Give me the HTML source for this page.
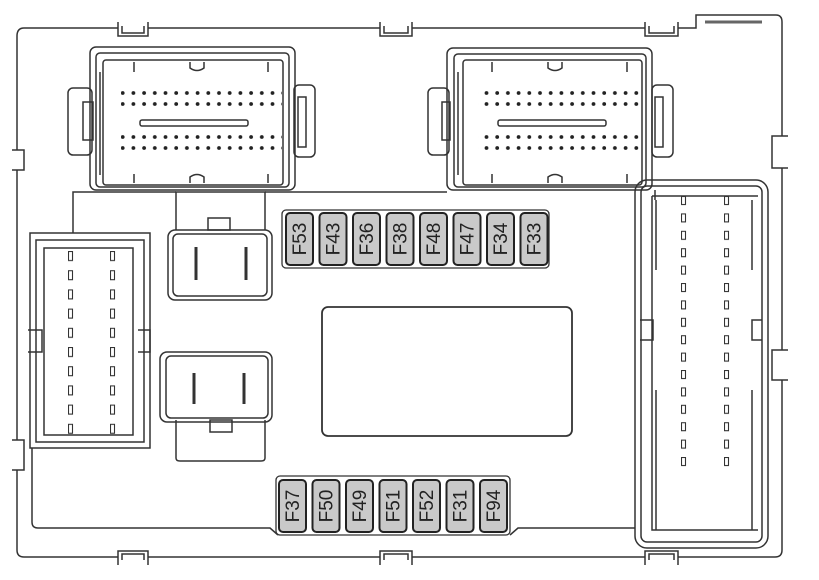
<!DOCTYPE html>
<html><head><meta charset="utf-8"><style>
html,body{margin:0;padding:0;background:#fff;}
svg{display:block;}
text{font-family:"Liberation Sans",sans-serif;font-size:19px;fill:#222;}
</style></head><body>
<svg width="819" height="580" viewBox="0 0 819 580" xmlns="http://www.w3.org/2000/svg">
<defs>
<pattern id="dots" x="0" y="0" width="10.7" height="11" patternUnits="userSpaceOnUse">
<circle cx="5" cy="5" r="1.9" fill="#222"/></pattern>
<pattern id="rpins" x="681" y="196" width="43" height="17.4" patternUnits="userSpaceOnUse">
<rect x="0.5" y="0.5" width="4" height="8" fill="none" stroke="#333" stroke-width="1.1"/></pattern>
<pattern id="lpins" x="68" y="251" width="42" height="19.2" patternUnits="userSpaceOnUse">
<rect x="0.5" y="0.5" width="4" height="9" fill="none" stroke="#333" stroke-width="1.1"/></pattern>
</defs>
<g fill="none" stroke="#333" stroke-width="1.5">
<path d="M24,28 H118 M148,28 H380 M412,28 H645 M678,28 H696 V15 H776 Q782,15 782,22 V136 M782,168 V350 M782,380 V550 Q782,557 775,557 H678 M645,557 H412 M380,557 H148 M118,557 H24 Q17,557 17,550 V470 M17,440 V170 M17,150 V36 Q17,28 24,28"/>
<path d="M705,22 H762" stroke-width="3" stroke="#666"/>
<path d="M118,22 V36 H148 V22 M122,26 V33 H144 V26"/>
<path d="M380,22 V36 H412 V22 M384,26 V33 H408 V26"/>
<path d="M645,22 V36 H678 V22 M649,26 V33 H674 V26"/>
<path d="M118,565 V551 H148 V565 M122,560 V554 H144 V560"/>
<path d="M380,565 V551 H412 V565 M384,560 V554 H408 V560"/>
<path d="M645,565 V551 H678 V565 M649,560 V554 H674 V560"/>
<path d="M12,150 H24 V170 H12 M12,440 H24 V470 H12"/>
<path d="M788,136 H772 V168 H788 M788,350 H772 V380 H788"/>
<path d="M73,233 V192 H176 M265,192 H447 M655,190 V200"/>
<path d="M32,448 V522 Q32,528 38,528 H270 L278,535 M510,535 L518,528 H635"/>
<rect x="90" y="47" width="205" height="143" rx="6"/>
<rect x="96" y="53" width="193" height="134" rx="4"/>
<rect x="103" y="60" width="180" height="125" rx="3"/>
<rect x="68" y="88" width="24" height="67" rx="5"/>
<rect x="83" y="102" width="10" height="38"/>
<rect x="294" y="85" width="21" height="72" rx="5"/>
<rect x="298" y="97" width="8" height="50"/>
<path d="M100,72 V175"/>
<path d="M134,62 V72 M268,62 V72 M134,183 V174 M268,183 V174"/>
<path d="M190,62 V68 Q197,73 204,68 V62 M190,183 V177 Q197,172 204,177 V183"/>
<rect x="140" y="120" width="108" height="6" rx="2"/>
<rect x="447" y="48" width="205" height="142" rx="6"/>
<rect x="454" y="54" width="192" height="133" rx="4"/>
<rect x="463" y="60" width="179" height="125" rx="3"/>
<rect x="428" y="88" width="21" height="67" rx="5"/>
<rect x="442" y="102" width="8" height="38"/>
<rect x="652" y="85" width="21" height="72" rx="5"/>
<rect x="655" y="97" width="8" height="50"/>
<path d="M458,72 V175"/>
<path d="M492,62 V72 M627,62 V72 M492,183 V174 M627,183 V174"/>
<path d="M548,62 V68 Q555,73 562,68 V62 M548,183 V177 Q555,172 562,177 V183"/>
<rect x="498" y="120" width="108" height="6" rx="2"/>
<path d="M176,230 V192 H265 V230"/>
<rect x="208" y="218" width="22" height="12"/>
<rect x="168" y="230" width="104" height="70" rx="7"/>
<rect x="173" y="234" width="94" height="62" rx="5"/>
<path d="M196,247 V280 M246,247 V280" stroke-width="3"/>
<path d="M176,420 V458 Q176,461 180,461 H261 Q265,461 265,458 V420"/>
<rect x="210" y="420" width="22" height="12"/>
<rect x="160" y="352" width="112" height="70" rx="7"/>
<rect x="166" y="356" width="102" height="62" rx="5"/>
<path d="M194,373 V404 M244,373 V404" stroke-width="3"/>
<path d="M30,233 H150 V448 H30 Z"/>
<path d="M36,240 H144 V442 H36 Z"/>
<path d="M44,248 H133 V435 H44 Z"/>
<path d="M28,330 H42 V352 H28 M138,330 H150 V352 H138"/>
<rect x="322" y="307" width="250" height="129" rx="6" stroke-width="1.8"/>
<rect x="635" y="180" width="133" height="368" rx="12"/>
<rect x="641" y="186" width="121" height="356" rx="6"/>
<path d="M652,196 H758 M652,196 V530 H758"/>
<path d="M656,200 V270 M752,200 V270 M656,390 V530 M752,390 V530"/>
<path d="M640,320 H653 V340 H640 M762,320 H752 V340 H762"/>
</g>
<rect x="121" y="90" width="161" height="22" fill="url(#dots)"/>
<rect x="121" y="133" width="161" height="22" fill="url(#dots)"/>
<rect x="478" y="90" width="161" height="22" fill="url(#dots)"/>
<rect x="478" y="133" width="161" height="22" fill="url(#dots)"/>
<rect x="681" y="196" width="50" height="278" fill="url(#rpins)"/>
<rect x="68" y="251" width="50" height="192" fill="url(#lpins)"/>
<g stroke="#333" stroke-width="1.3">
<rect x="282" y="210" width="267" height="58" rx="4" fill="#fff"/>
<rect x="276" y="476" width="234" height="59" rx="4" fill="#fff"/>
</g>
<g fill="#c9c9c9" stroke="#222" stroke-width="2">
<rect x="286" y="213" width="27" height="52" rx="4"/>
<rect x="319.5" y="213" width="27" height="52" rx="4"/>
<rect x="353" y="213" width="27" height="52" rx="4"/>
<rect x="386.5" y="213" width="27" height="52" rx="4"/>
<rect x="420" y="213" width="27" height="52" rx="4"/>
<rect x="453.5" y="213" width="27" height="52" rx="4"/>
<rect x="487" y="213" width="27" height="52" rx="4"/>
<rect x="520.5" y="213" width="27" height="52" rx="4"/>
<rect x="279" y="480" width="27" height="52" rx="4"/>
<rect x="312.5" y="480" width="27" height="52" rx="4"/>
<rect x="346" y="480" width="27" height="52" rx="4"/>
<rect x="379.5" y="480" width="27" height="52" rx="4"/>
<rect x="413" y="480" width="27" height="52" rx="4"/>
<rect x="446.5" y="480" width="27" height="52" rx="4"/>
<rect x="480" y="480" width="27" height="52" rx="4"/>
</g>
<g text-anchor="middle">
<text transform="translate(306,239) rotate(-90)">F53</text>
<text transform="translate(339.5,239) rotate(-90)">F43</text>
<text transform="translate(373,239) rotate(-90)">F36</text>
<text transform="translate(406.5,239) rotate(-90)">F38</text>
<text transform="translate(440,239) rotate(-90)">F48</text>
<text transform="translate(473.5,239) rotate(-90)">F47</text>
<text transform="translate(507,239) rotate(-90)">F34</text>
<text transform="translate(540.5,239) rotate(-90)">F33</text>
<text transform="translate(299,506) rotate(-90)">F37</text>
<text transform="translate(332.5,506) rotate(-90)">F50</text>
<text transform="translate(366,506) rotate(-90)">F49</text>
<text transform="translate(399.5,506) rotate(-90)">F51</text>
<text transform="translate(433,506) rotate(-90)">F52</text>
<text transform="translate(466.5,506) rotate(-90)">F31</text>
<text transform="translate(500,506) rotate(-90)">F94</text>
</g>
</svg>
</body></html>
